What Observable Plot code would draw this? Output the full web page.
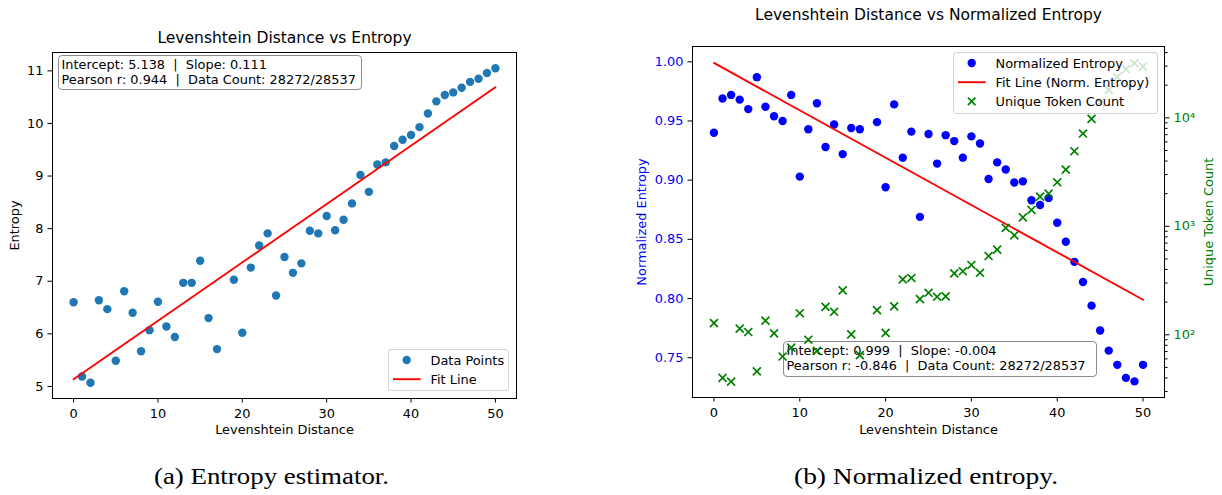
<!DOCTYPE html>
<html>
<head>
<meta charset="utf-8">
<script src="https://cdn.jsdelivr.net/npm/d3@7"></script>
<script src="https://cdn.jsdelivr.net/npm/@observablehq/plot@0.6"></script>
<style>
  html, body { margin: 0; padding: 0; background: #fff; }
  #fig { position: relative; width: 1222px; height: 495px; overflow: hidden; font-family: "DejaVu Sans", sans-serif; color: #000; }
  #fig > svg, #fig > div { position: absolute; }
  .ann { box-sizing: border-box; border: 1px solid #8c8c8c; border-radius: 4px; background: rgba(255,255,255,0.8);
         font-size: 12.9px; line-height: 15px; white-space: pre; padding: 1px 0 0 2.5px; }
  .leg { box-sizing: border-box; border: 1px solid #d3d3d3; border-radius: 3px; background: rgba(255,255,255,0.8); }
  .legtext { position: absolute; font-size: 12.9px; line-height: 15px; white-space: pre; }
</style>
</head>
<body>
<div id="fig"></div>
<script>
// ---------------- data ----------------
const levDist = [0,1,2,3,4,5,6,7,8,9,10,11,12,13,14,15,16,17,
                 19,20,21,22,23,24,25,26,27,28,29,30,31,32,33,34,35,36,37,38,39,40,41,42,43,44,45,46,47,48,49,50];
const entropy = [6.60,5.19,5.07,6.64,6.47,5.49,6.81,6.40,5.67,6.07,
                 6.61,6.14,5.94,6.97,6.97,7.39,6.30,5.71,
                 7.03,6.02,7.26,7.68,7.91,6.73,7.46,7.16,7.34,7.96,
                 7.91,8.24,7.97,8.17,8.48,9.02,8.70,9.22,9.26,9.57,
                 9.69,9.78,9.93,10.19,10.42,10.54,10.59,10.68,10.79,10.85,
                 10.96,11.05];
const normEntropy = [0.940,0.969,0.972,0.968,0.960,0.987,0.962,0.954,0.950,0.972,
                     0.903,0.943,0.965,0.928,0.947,0.922,0.944,0.943,
                     0.949,0.894,0.964,0.919,0.941,0.869,0.939,0.914,0.938,0.933,
                     0.919,0.937,0.931,0.901,0.915,0.909,0.898,0.899,0.883,0.879,
                     0.885,0.864,0.848,0.831,0.814,0.794,0.773,0.756,0.744,0.733,
                     0.730,0.744];
const uniqueTokens = [128,40,37,114,106,46,135,103,63,76,
                      158,90,71,181,163,257,101,65,
                      169,104,183,324,334,213,244,224,226,368,
                      385,440,373,532,609,966,826,1211,1415,1879,
                      2004,2547,3334,4923,7169,9800,13800,18100,23900,28100,
                      31900,29700];
// fit statistics (as printed on the chart)
const fitEntropy = {intercept: 5.138, slope: 0.111, r: 0.944};
const fitNorm = {intercept: 0.999, slope: -0.004, r: -0.846};
const dataCount = "28272/28537";
// ticks and labels
const xTicks = [0, 10, 20, 30, 40, 50];
const yTicksEntropy = [5, 6, 7, 8, 9, 10, 11];
const yTicksNorm = [0.75, 0.80, 0.85, 0.90, 0.95, 1.00];
const yTicksCountMajor = [100, 1000, 10000];
const yTicksCountMinor = [30,40,50,60,70,80,90,200,300,400,500,600,700,800,900,
                          2000,3000,4000,5000,6000,7000,8000,9000,20000,30000,40000];
const titles = ["Levenshtein Distance vs Entropy", "Levenshtein Distance vs Normalized Entropy"];
const captions = ["(a) Entropy estimator.", "(b) Normalized entropy."];

// ---------------- tables ----------------
const tableA = levDist.map((d, i) => ({d, v: entropy[i]}));
const tableB = levDist.map((d, i) => ({d, v: normEntropy[i], u: uniqueTokens[i]}));
const xExt = d3.extent(levDist);
const fitLineA = xExt.map(d => ({d, v: fitEntropy.intercept + fitEntropy.slope * d}));
const fitLineB = xExt.map(d => ({d, v: fitNorm.intercept + fitNorm.slope * d}));

const FONT = {fontFamily: "DejaVu Sans", fontSize: "12.9px", background: "transparent", color: "black"};
const sup = {"0":"⁰","1":"¹","2":"²","3":"³","4":"⁴","5":"⁵","6":"⁶","7":"⁷","8":"⁸","9":"⁹"};
const logFmt = d => "10" + String(Math.round(Math.log10(d))).split("").map(c => sup[c]).join("");
const blank = () => "";
const TICK = 4.5, PAD = 4.5;

const fig = d3.select("#fig");

// ---------------- panel (a) ----------------
const plotA = Plot.plot({
  width: 610, height: 440,
  marginLeft: 52, marginRight: 94, marginTop: 52, marginBottom: 42,
  style: FONT,
  x: {domain: [-2.5, 52.5], label: null},
  y: {domain: [4.771, 11.349], label: null},
  marks: [
    Plot.axisX({ticks: xTicks, tickSize: TICK, tickPadding: 5.5, tickFormat: "d", label: null}),
    Plot.axisY({ticks: yTicksEntropy, tickSize: TICK, tickPadding: PAD, tickFormat: "d", label: null}),
    Plot.dot(tableA, {x: "d", y: "v", r: 4.2, fill: "#1f77b4", stroke: null}),
    Plot.line(fitLineA, {x: "d", y: "v", stroke: "#ff0000", strokeWidth: 1.9}),
    Plot.frame({stroke: "black", strokeWidth: 1}),
    Plot.text([titles[0]], {text: d => d, frameAnchor: "top", lineAnchor: "middle", dy: -14, fontSize: 15.5}),
    Plot.text(["Levenshtein Distance"], {text: d => d, frameAnchor: "bottom", lineAnchor: "middle", dy: 31}),
    Plot.text(["Entropy"], {text: d => d, frameAnchor: "left", textAnchor: "middle", lineAnchor: "middle", rotate: -90, dx: -38})
  ]
});
d3.select(plotA).style("left", "0px").style("top", "0px").style("z-index", 1);
fig.node().appendChild(plotA);

fig.append("div").attr("class", "ann")
  .style("left", "58px").style("top", "55px").style("width", "304px").style("height", "35px").style("z-index", 2)
  .text(`Intercept: ${fitEntropy.intercept.toFixed(3)}  |  Slope: ${fitEntropy.slope.toFixed(3)}\nPearson r: ${fitEntropy.r.toFixed(3)}  |  Data Count: ${dataCount}`);

function legend(left, top, width, height, entries, z) {
  const box = fig.append("div").attr("class", "leg")
    .style("left", left + "px").style("top", top + "px")
    .style("width", width + "px").style("height", height + "px").style("z-index", z);
  const svg = box.append("svg").attr("width", 40).attr("height", height)
    .style("position", "absolute").style("left", "-1px").style("top", "-1px");
  entries.forEach((e, i) => {
    const cy = 11 + i * 19.2;
    if (e.kind === "dot") svg.append("circle").attr("cx", 18.7).attr("cy", cy).attr("r", 4.2).attr("fill", e.color);
    if (e.kind === "line") svg.append("line").attr("x1", 5).attr("x2", 32.7).attr("y1", cy).attr("y2", cy).attr("stroke", e.color).attr("stroke-width", 1.9);
    if (e.kind === "x") svg.append("path").attr("d", `M${18.7-3.8},${cy-3.8}L${18.7+3.8},${cy+3.8}M${18.7-3.8},${cy+3.8}L${18.7+3.8},${cy-3.8}`).attr("stroke", e.color).attr("stroke-width", 1.7);
    box.append("div").attr("class", "legtext").style("left", "41.5px").style("top", (cy - 1 - 7.3) + "px").text(e.label);
  });
}
legend(388, 349, 121, 42, [
  {kind: "dot", color: "#1f77b4", label: "Data Points"},
  {kind: "line", color: "#ff0000", label: "Fit Line"}
], 3);

// ---------------- panel (b) ----------------
const geomB = {width: 602, height: 440, marginLeft: 72, marginRight: 58, marginTop: 46, marginBottom: 43};
const plotB1 = Plot.plot({
  ...geomB,
  style: FONT,
  x: {domain: [-2.5, 52.5], label: null},
  y: {domain: [0.7164, 1.0129], label: null},
  marks: [
    Plot.axisX({ticks: xTicks, tickSize: TICK, tickPadding: 5.5, tickFormat: "d", label: null}),
    Plot.axisY({ticks: yTicksNorm, tickSize: TICK, tickFormat: blank, label: null}),
    Plot.axisY({ticks: yTicksNorm, tickSize: 0, tickPadding: TICK + PAD, tickFormat: ".2f", color: "#0000ff", label: null}),
    Plot.dot(tableB, {x: "d", y: "v", r: 4.2, fill: "#0000ff", stroke: null}),
    Plot.line(fitLineB, {x: "d", y: "v", stroke: "#ff0000", strokeWidth: 1.9}),
    Plot.frame({stroke: "black", strokeWidth: 1}),
    Plot.text([titles[1]], {text: d => d, frameAnchor: "top", lineAnchor: "middle", dy: -31, fontSize: 15.5}),
    Plot.text(["Levenshtein Distance"], {text: d => d, frameAnchor: "bottom", lineAnchor: "middle", dy: 32}),
    Plot.text(["Normalized Entropy"], {text: d => d, frameAnchor: "left", textAnchor: "middle", lineAnchor: "middle", rotate: -90, dx: -51, fill: "#0000ff"})
  ]
});
d3.select(plotB1).style("left", "620px").style("top", "0px").style("z-index", 1);
fig.node().appendChild(plotB1);

fig.append("div").attr("class", "ann")
  .style("left", "783px").style("top", "341px").style("width", "314px").style("height", "36px").style("z-index", 2)
  .text(`Intercept: ${fitNorm.intercept.toFixed(3)}  |  Slope: ${fitNorm.slope.toFixed(3)}\nPearson r: ${fitNorm.r.toFixed(3)}  |  Data Count: ${dataCount}`);

const plotB2 = Plot.plot({
  ...geomB,
  style: FONT,
  x: {domain: [-2.5, 52.5], axis: null},
  y: {type: "log", domain: [26.4, 45500], label: null},
  marks: [
    Plot.axisY({anchor: "right", ticks: yTicksCountMinor, tickSize: 2.6, tickFormat: blank, label: null}),
    Plot.axisY({anchor: "right", ticks: yTicksCountMajor, tickSize: TICK, tickFormat: blank, label: null}),
    Plot.axisY({anchor: "right", ticks: yTicksCountMajor, tickSize: 0, tickPadding: TICK + PAD, tickFormat: logFmt, color: "#008000", label: null}),
    Plot.dot(tableB, {x: "d", y: "u", symbol: "times", r: 3.7, stroke: "#008000", strokeWidth: 1.7}),
    Plot.text(["Unique Token Count"], {text: d => d, frameAnchor: "right", textAnchor: "middle", lineAnchor: "middle", rotate: -90, dx: 44, fill: "#008000"})
  ]
});
d3.select(plotB2).style("left", "620px").style("top", "0px").style("z-index", 3).style("pointer-events", "none");
fig.node().appendChild(plotB2);

legend(953, 52, 205, 62, [
  {kind: "dot", color: "#0000ff", label: "Normalized Entropy"},
  {kind: "line", color: "#ff0000", label: "Fit Line (Norm. Entropy)"},
  {kind: "x", color: "#008000", label: "Unique Token Count"}
], 4);

// ---------------- captions ----------------
const capSvg = fig.append("svg").attr("width", 1222).attr("height", 495)
  .style("left", "0px").style("top", "0px").style("z-index", 5).style("pointer-events", "none");
[[154, 235], [794, 264]].forEach(([x0, w], i) => {
  capSvg.append("text").attr("x", x0).attr("y", 484.3)
    .attr("font-family", "Liberation Serif").attr("font-size", 22.5)
    .attr("textLength", w).attr("lengthAdjust", "spacingAndGlyphs")
    .text(captions[i]);
});
</script>
</body>
</html>
